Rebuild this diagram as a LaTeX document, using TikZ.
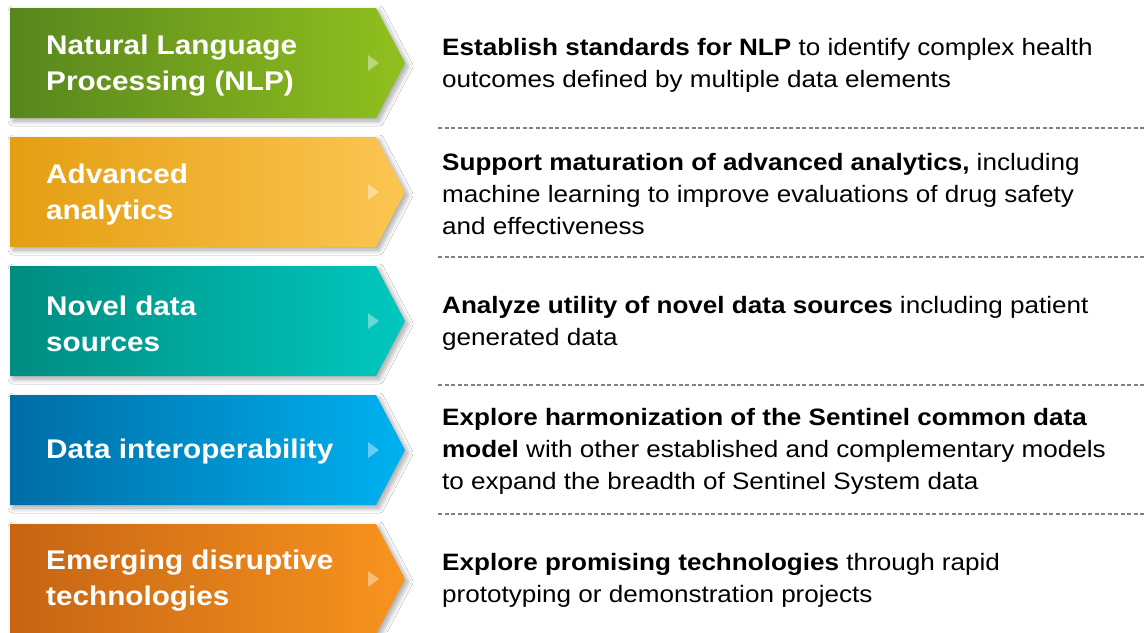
\documentclass[tikz,border=0pt]{standalone}
\usepackage{fontspec}
\setmainfont{Liberation Sans}[FakeStretch=1.1]
\usetikzlibrary{shadows.blur}
\definecolor{gA}{RGB}{88,134,30}\definecolor{gB}{RGB}{145,192,30}
\definecolor{yA}{RGB}{228,158,18}\definecolor{yB}{RGB}{252,198,82}
\definecolor{tA}{RGB}{0,140,128}\definecolor{tB}{RGB}{0,200,190}
\definecolor{bA}{RGB}{0,108,165}\definecolor{bB}{RGB}{0,178,240}
\definecolor{oA}{RGB}{198,100,20}\definecolor{oB}{RGB}{248,148,30}
\definecolor{sepgray}{RGB}{128,128,128}
\tikzset{
  chev/.style={blur shadow={shadow xshift=3pt,shadow yshift=-3pt,shadow blur steps=8,shadow blur radius=5pt,shadow opacity=35}},
  tri/.style={fill=white,fill opacity=0.4},
  lbl/.style={anchor=west,inner sep=0pt,text=white,align=left,font=\fontsize{27}{36}\selectfont\bfseries},
  desc/.style={anchor=west,inner sep=0pt,align=left,text=black,font=\fontsize{23.7}{32}\selectfont},
  sep/.style={draw=sepgray,line width=1.1pt,dash pattern=on 4pt off 2.5pt}
}
\begin{document}
\begin{tikzpicture}[x=1pt,y=-1pt]
\useasboundingbox (0,0) rectangle (1145,632);
\fill[white] (0,0) rectangle (1145,632);
% chevrons
\foreach \i/\ca/\cb in {0/gA/gB,1/yA/yB,2/tA/tB,3/bA/bB,4/oA/oB}{
  \pgfmathsetmacro{\t}{8+129*\i}
  \pgfmathsetmacro{\m}{\t+55}
  \pgfmathsetmacro{\b}{\t+110}
  \path[chev,left color=\ca,right color=\cb] (10,\t) -- (376,\t) -- (405,\m) -- (376,\b) -- (10,\b) -- cycle;
  \fill[tri] (368,\m-8) -- (379,\m) -- (368,\m+8) -- cycle;
}
\node[lbl] (l1) at (46,66) {Natural Language\\Processing (NLP)};
\node[lbl] (l2) at (46,195) {Advanced\\analytics};
\node[lbl] (l3) at (46,324) {Novel data\\sources};
\node[lbl] (l4) at (46,452) {Data interoperability};
\node[lbl] (l5) at (46,581) {Emerging disruptive\\technologies};
% descriptions
\node[desc] (d1) at (442,65) {\textbf{Establish standards for NLP} to identify complex health\\outcomes defined by multiple data elements};
\node[desc] (d2) at (442,194) {\textbf{Support maturation of advanced analytics,} including\\machine learning to improve evaluations of drug safety\\and effectiveness};
\node[desc] (d3) at (442,323) {\textbf{Analyze utility of novel data sources} including patient\\generated data};
\node[desc] (d4) at (442,451) {\textbf{Explore harmonization of the Sentinel common data}\\\textbf{model} with other established and complementary models\\to expand the breadth of Sentinel System data};
\node[desc] (d5) at (442,580) {\textbf{Explore promising technologies} through rapid\\prototyping or demonstration projects};
% separators
\foreach \y/\n in {128/1,257/2,385/3,514/4}{
  \coordinate (sa\n) at (438,\y); \coordinate (sb\n) at (1145,\y);
  \draw[sep] (sa\n) -- (sb\n);
}
\end{tikzpicture}
\end{document}
